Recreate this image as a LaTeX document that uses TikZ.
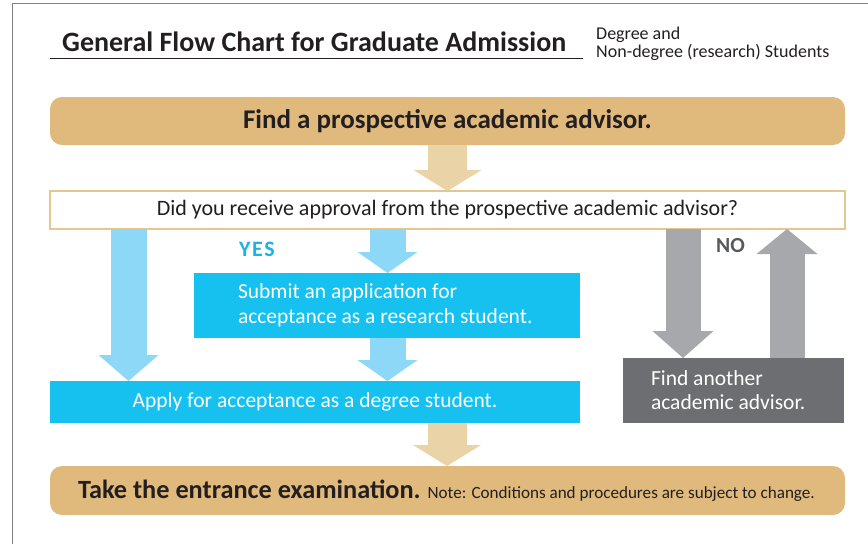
\documentclass[tikz,border=0pt]{standalone}
\usepackage{fontspec}
\setmainfont{Carlito}
\usetikzlibrary{arrows.meta}

\definecolor{tanfill}{HTML}{DFBA7C}
\definecolor{tanlight}{HTML}{EAD3A7}
\definecolor{tanline}{HTML}{E3C78F}
\definecolor{cyanfill}{HTML}{16C1F0}
\definecolor{bluelight}{HTML}{8DD8F6}
\definecolor{yesblue}{HTML}{1BB3E6}
\definecolor{graylight}{HTML}{A7A8AB}
\definecolor{graydark}{HTML}{6D6E71}
\definecolor{nogray}{HTML}{58595B}
\definecolor{inkdark}{HTML}{231F20}

\def\boxWidth{795pt}
\tikzset{
  box/.style={anchor=north west, outer sep=0pt, inner sep=0pt, text=inkdark},
  tanbox/.style={box, fill=tanfill, rounded corners=12pt, minimum width=\boxWidth,
    minimum height=48pt},
  askbox/.style={box, draw=tanline, line width=1.5pt, fill=white, minimum width=\boxWidth,
    minimum height=38pt, font=\fontsize{22}{26}\selectfont},
  cyanbox/.style={box, fill=cyanfill, text=white, font=\fontsize{21.5}{25}\selectfont},
  graybox/.style={box, fill=graydark, text=white, font=\fontsize{21.5}{24}\selectfont},
  blockarrow/.style={line width=#1, line cap=butt},
  tanarrow/.style={blockarrow=39pt, draw=tanlight,
    -{Triangle[width=68pt 0 0,length=21pt 0 0,line width=0pt 0 0]}},
  bluearrow/.style={blockarrow=36pt, draw=bluelight,
    -{Triangle[width=60pt 0 0,length=#1 0 0,line width=0pt 0 0]}},
  bluearrow/.default=21pt,
  grayarrow/.style={blockarrow=35pt, draw=graylight,
    -{Triangle[width=61pt 0 0,length=#1 0 0,line width=0pt 0 0]}},
  grayarrow/.default=26pt
}

\begin{document}
\begin{tikzpicture}[x=1pt,y=-1pt]
  \useasboundingbox (0,0) rectangle (868,544);
  \draw[gray, line width=1pt] (12,544) -- (12,3) -- (868,3);

  \node[anchor=base west, inner sep=0pt, text=inkdark,
    font=\fontsize{28}{32}\selectfont\bfseries] (title) at (62,51)
    {General Flow Chart for Graduate Admission};
  \draw[inkdark, line width=1pt] (50,58) -- (583,58);
  \node[anchor=north west, inner sep=0pt, text=inkdark, align=flush left,
    font=\fontsize{18}{18}\selectfont] (subtitle) at (596,27)
    {Degree and\\Non-degree (research) Students};

  \node[tanbox, font=\fontsize{27}{30}\selectfont\bfseries] (find) at (50,97)
    {Find a prospective academic advisor.};
  \node[askbox] (ask) at (50,191)
    {Did you receive approval from the prospective academic advisor?};
  \node[cyanbox, minimum height=65pt, text width=298pt, inner xsep=44pt, align=flush left]
    (submit) at (194,273) {\raisebox{-2pt}{Submit an application for}\\
      \raisebox{-2pt}{acceptance as a research student.}};
  \node[cyanbox, minimum width=530pt, minimum height=42pt] (apply) at (50,381)
    {Apply for acceptance as a degree student.};
  \node[graybox, minimum height=65pt, text width=165pt, inner xsep=28pt, align=flush left]
    (another) at (623,358) {Find another\\academic advisor.};
  \node[tanbox, minimum height=49pt, text width=739pt, inner xsep=28pt, align=flush left]
    (exam) at (50,466)
    {\makebox[739pt][l]{{\fontsize{26.3}{30}\selectfont\bfseries Take the entrance examination.}\hspace{7pt}%
     {\fontsize{17.1}{20}\selectfont Note: Conditions and procedures are subject to change.}}};

  \node[anchor=west, inner sep=0pt, text=yesblue, font=\fontsize{22}{24}\selectfont\bfseries]
    (yes) at (239,249) {Y\kern1.5pt E\kern1.5pt S};
  \node[anchor=west, inner sep=0pt, text=nogray, font=\fontsize{21.5}{24}\selectfont\bfseries]
    (no) at (716,246) {NO};

  \draw[tanarrow] (find.south) -- (ask.north);
  \draw[bluearrow=26pt] ([xshift=78.5pt]ask.south west) -- ([xshift=78.5pt]apply.north west);
  \draw[bluearrow] ([xshift=337.5pt]ask.south west) -- ([xshift=193.5pt]submit.north west);
  \draw[bluearrow] ([xshift=193.5pt]submit.south west) -- ([xshift=337.5pt]apply.north west);
  \draw[grayarrow=27pt] ([xshift=633pt]ask.south west) -- ([xshift=60pt]another.north west);
  \draw[grayarrow=25pt] ([xshift=164pt]another.north west) -- ([xshift=737pt]ask.south west);
  \draw[tanarrow] ([xshift=397pt]apply.south west) -- ([xshift=397pt]exam.north west);
\end{tikzpicture}
\end{document}
